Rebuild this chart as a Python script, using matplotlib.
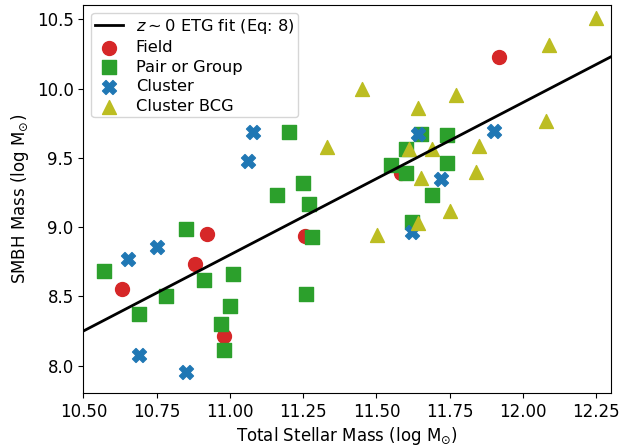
import matplotlib
matplotlib.use("Agg")
import matplotlib.pyplot as plt
import numpy as np

plt.rcParams['font.family'] = ['DejaVu Sans']
plt.rcParams['font.size'] = 12

# Field galaxies
field_x = [10.631, 10.880, 10.921, 10.980, 11.257, 11.584, 11.920]
field_y = [8.553, 8.734, 8.952, 8.215, 8.938, 9.389, 10.231]

# Pair or Group
pair_x = [10.570, 10.690, 10.781, 10.851, 10.911, 10.969, 10.979, 11.001, 11.010,
          11.160, 11.201, 11.249, 11.269, 11.281, 11.259, 11.652, 11.741, 11.601,
          11.550, 11.601, 11.741, 11.690, 11.621]
pair_y = [8.683, 8.372, 8.502, 8.986, 8.618, 8.300, 8.112, 8.432, 8.661,
          9.232, 9.685, 9.316, 9.165, 8.931, 8.519, 9.673, 9.665, 9.566,
          9.451, 9.393, 9.465, 9.232, 9.039]

# Cluster
cluster_x = [10.652, 10.690, 10.751, 10.851, 11.061, 11.080, 11.641, 11.900, 11.721, 11.621]
cluster_y = [8.767, 8.074, 8.854, 7.951, 9.478, 9.689, 9.673, 9.698, 9.348, 8.962]

# Cluster BCG
bcg_x = [12.250, 12.090, 11.450, 11.771, 11.641, 12.080, 11.331, 11.850, 11.610,
         11.689, 11.840, 11.651, 11.751, 11.641, 11.501]
bcg_y = [10.509, 10.316, 9.996, 9.954, 9.858, 9.769, 9.581, 9.586, 9.563,
         9.563, 9.400, 9.355, 9.120, 9.033, 8.943]

# z~0 ETG fit: log M_BH = fit_a + fit_b * (log M* - fit_x0)
fit_a = 8.80
fit_b = 1.10
fit_x0 = 11.0

xlim = (10.5, 12.3)
ylim = (7.80, 10.605)
xticks = [10.50, 10.75, 11.00, 11.25, 11.50, 11.75, 12.00, 12.25]
yticks = [8.0, 8.5, 9.0, 9.5, 10.0, 10.5]

fig = plt.figure(figsize=(6.22, 4.47), dpi=100)
ax = fig.add_axes([0.134, 0.120, 0.848, 0.869])

xl = np.array(xlim)
ax.plot(xl, fit_a + fit_b * (xl - fit_x0), color='black', lw=2,
        label=r'$z\sim0$ ETG fit (Eq: 8)', zorder=3)

ax.scatter(field_x, field_y, s=100, marker='o', color='#d62728', label='Field', zorder=2)
ax.scatter(pair_x, pair_y, s=100, marker='s', color='#2ca02c', label='Pair or Group', zorder=2)
ax.scatter(cluster_x, cluster_y, s=100, marker='X', color='#1f77b4', label='Cluster', zorder=2)
ax.scatter(bcg_x, bcg_y, s=100, marker='^', color='#bcbd22', label='Cluster BCG', zorder=2)

ax.set_xlim(*xlim)
ax.set_ylim(*ylim)
ax.set_xticks(xticks)
ax.set_xticklabels([f"{t:.2f}" for t in xticks])
ax.set_yticks(yticks)
ax.set_yticklabels([f"{t:.1f}" for t in yticks])

ax.set_xlabel(r'Total Stellar Mass ($\log\,\mathrm{M}_{\odot}$)', labelpad=2.5)
ax.set_ylabel(r'SMBH Mass ($\log\,\mathrm{M}_{\odot}$)')

ax.legend(loc='upper left', fontsize=11.7, handletextpad=0.75, borderpad=0.22,
          labelspacing=0.28, handlelength=1.75, borderaxespad=0.5)

fig.savefig('out.png', dpi=100)
